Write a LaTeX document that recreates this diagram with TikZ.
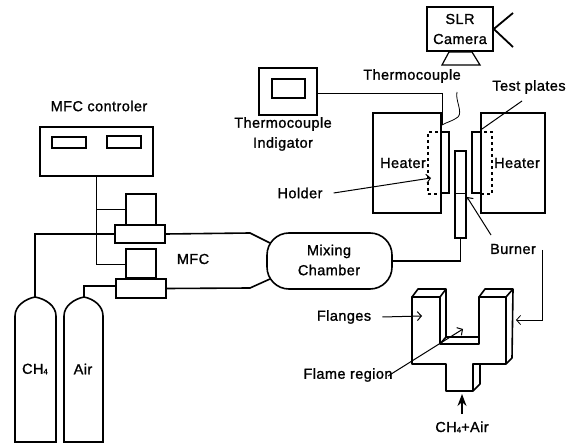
\documentclass[tikz,border=0pt]{standalone}
\usepackage{fontspec}
\usetikzlibrary{arrows.meta}
\setmainfont[FakeBold=1.2,LetterSpace=3]{Liberation Sans}

\tikzset{
  lbl/.style={inner sep=3pt, font=\fontsize{14.5}{20}\selectfont, align=center},
  unit/.style={draw, line width=1.6pt, inner sep=0pt},
  plate/.style={draw, line width=1.2pt, inner sep=0pt},
  holder/.style={draw, dashed, line width=1.2pt, inner sep=0pt},
  pipe/.style={line width=1.6pt},
  wire/.style={line width=0.8pt},
  leader/.style={line width=1pt}
}
\newcommand{\subfour}{\raisebox{-0.5pt}{\fontsize{8}{8}\selectfont 4}}

\begin{document}
\begin{tikzpicture}[x=1pt, y=-1pt, >={Straight Barb[length=4pt,width=9pt]}]
          \useasboundingbox (0,0) rectangle (575,443);
          % flow controller side
          \node[lbl] (ctrllbl) at (99,106) {MFC controler};
          \node[unit, minimum width=113pt, minimum height=49pt] (ctrl) at (96.5,151.5) {};
          \node[unit, minimum width=34pt, minimum height=11pt] (disp1) at (69,142.5) {};
          \node[unit, minimum width=34pt, minimum height=12pt] (disp2) at (124,142) {};
          \node[unit, minimum width=30pt, minimum height=31pt] (head1) at (141,209.5) {};
          \node[unit, minimum width=50pt, minimum height=18pt] (base1) at (140,234) {};
          \node[unit, minimum width=30pt, minimum height=29pt] (head2) at (141,263.5) {};
          \node[unit, minimum width=50pt, minimum height=19pt] (base2) at (141,288.5) {};
          \node[lbl] (mfclbl) at (193,259) {MFC};
          \coordinate (branch1) at (96,209);
          \coordinate (branch2) at (96,264);
          \draw[wire] (ctrl.south -| branch1) -- (branch2) -- (branch2 -| head2.west);
          \draw[wire] (branch1) -- (branch1 -| head1.west);

          % gas bottles
          \coordinate (ch4top) at (35,297);
          \coordinate (airtop) at (84,297);
          \draw[pipe] (15,442) -- (15,316) .. controls (15,306) and (25,299) .. (ch4top)
            .. controls (46,299) and (56,306) .. (56,316) -- (56,442) -- cycle;
          \draw[pipe] (64,442) -- (64,316) .. controls (64,306) and (74,299) .. (airtop)
            .. controls (94,299) and (103,306) .. (103,316) -- (103,442) -- cycle;
          \node[lbl] (ch4lbl) at (35,369) {CH\subfour};
          \node[lbl] (airlbl) at (83,369) {Air};
          \draw[pipe] (ch4top) |- (base1.west);
          \draw[pipe] (airtop) -- (84,286) -- (base2.west |- 84,286);

          % mixing chamber
          \node[unit, rounded corners=22pt, minimum width=125pt, minimum height=56pt] (mix) at (329.5,261) {};
          \node[lbl] (mixlbl) at (329,260) {Mixing\\Chamber};
          \coordinate (mixin1) at (270,243);
          \coordinate (mixin2) at (270,279);
          \draw[pipe] (base1.east) -- (250,233) -- (mixin1);
          \draw[pipe] (base2.east) -- (250,288) -- (mixin2);

          % heaters and burner
          \node[unit, minimum width=68pt, minimum height=100pt] (heatl) at (407,163) {};
          \node[unit, minimum width=64pt, minimum height=100pt] (heatr) at (513,163) {};
          \node[plate, minimum width=8pt, minimum height=61pt] (platel) at (445,162.5) {};
          \node[plate, minimum width=9pt, minimum height=61pt] (plater) at (476.5,162.5) {};
          \node[holder, minimum width=13pt, minimum height=62pt] (holdl) at (434.5,163) {};
          \node[holder, minimum width=11pt, minimum height=62pt] (holdr) at (486.5,163) {};
          \node[unit, minimum width=11pt, minimum height=87pt] (burner) at (460.5,194.5) {};
          \draw[wire] (burner.west |- 0,193) -- (burner.east |- 0,193);
          \node[lbl] (heatllbl) at (403,163) {Heater};
          \node[lbl] (heatrlbl) at (517,163) {Heater};
          \draw[pipe] (mix.east) -| (burner.south);

          % thermocouple
          \node[unit, minimum width=58pt, minimum height=47pt] (indic) at (288,91.5) {};
          \node[unit, minimum width=33pt, minimum height=19pt] (indicwin) at (288.5,88.5) {};
          \node[lbl] (indiclbl) at (283,134) {Thermocouple\\Indigator};
          \node[lbl] (tclbl) at (412,76) {Thermocouple};
          \coordinate (tcjoint) at (442,125);
          \coordinate (tclead) at (457,92);
          \draw[wire] (indic.east |- 0,93) -| (tcjoint);
          \draw[wire] (tclead) .. controls (455,100) and (463,112) .. (458,117)
            .. controls (453,121) and (447,122) .. (tcjoint);

          % camera
          \node[unit, minimum width=66pt, minimum height=44pt] (cam) at (460,29) {};
          \node[lbl] (camlbl) at (460,29) {SLR\\Camera};
          \coordinate (lensa) at (513,13);
          \coordinate (lensb) at (513,47);
          \draw[line width=1.8pt] (lensa) -- (cam.east) -- (lensb);
          \draw[plate] (449,52) -- (472,52) -- (480,65) -- (442,65) -- cycle;

          % flange
          \draw[pipe, line join=round] (412,297) -- (440,297) -- (440,344) -- (479,344) -- (479,297) -- (506,297)
            -- (506,364) -- (473,364) -- (473,391) -- (446,391) -- (446,364) -- (412,364) -- cycle;
          \draw[pipe, line join=round] (412,297) -- (418,289) -- (446,289) -- (440,297);
          \draw[pipe, line join=round] (446,289) -- (446,337) -- (440,344);
          \draw[pipe, line join=round] (446,337) -- (479,337);
          \draw[pipe, line join=round] (479,297) -- (485,289) -- (513,289) -- (506,297);
          \draw[pipe, line join=round] (513,289) -- (512,358) -- (506,364);
          \draw[pipe, line join=round] (480,364) -- (480,384) -- (473,391);

          % labels with leaders
          \node[lbl] (platelbl) at (529,87) {Test plates};
          \coordinate (platetip) at (482,129);
          \coordinate (platestart) at (522,101);
          \draw[leader] (platestart) -- (platetip);
          \node[lbl] (holderlbl) at (300,193) {Holder};
          \coordinate (holdertip) at (431,178);
          \draw[leader, ->] (holderlbl.east) ++(8,0) -- (holdertip);
          \node[lbl] (burnerlbl) at (513,249) {Burner};
          \coordinate (burnerstart) at (491,235);
          \coordinate (burnertip) at (467,197);
          \draw[leader, ->] (burnerstart) -- (burnertip);
          \coordinate (burnercorner) at (542,320);
          \coordinate (flangeside) at (516,320);
          \draw[wire, ->] (542,250) -- (burnercorner) -- (flangeside);
          \node[lbl] (flangelbl) at (344,317) {Flanges};
          \coordinate (flangetip) at (422,316);
          \draw[leader, ->] (flangelbl.east) ++(8,0) -- (flangetip);
          \node[lbl] (flamelbl) at (348,375) {Flame region};
          \coordinate (flamestart) at (388,376);
          \coordinate (flametip) at (463,329);
          \draw[leader, ->] (flamestart) -- (flametip);
          \node[lbl] (feedlbl) at (462,427) {CH\subfour+Air};
          \coordinate (feedtip) at (462,394);
          \draw[line width=1.2pt, -{Stealth[length=12pt,width=9pt]}] (462,414) -- (feedtip);
        \end{tikzpicture}
\end{document}
